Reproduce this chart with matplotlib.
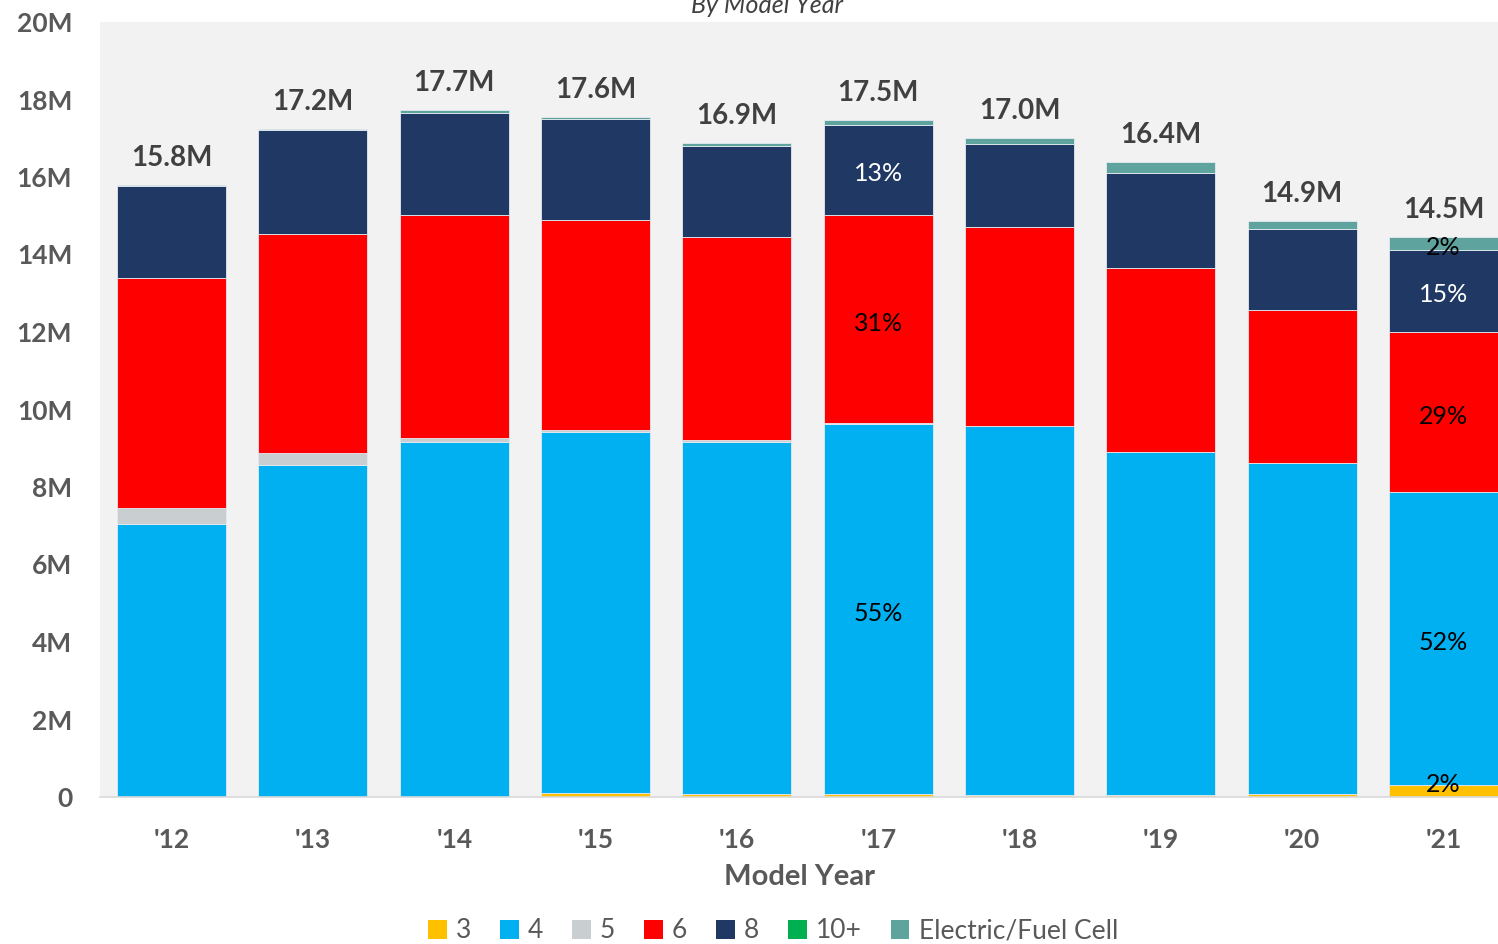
import numpy as np
import matplotlib.pyplot as plt
from matplotlib.patches import Patch

plt.rcParams['font.family'] = ['Lato', 'DejaVu Sans']

# production by engine cylinder count, millions of vehicles
years = ["'12", "'13", "'14", "'15", "'16", "'17", "'18", "'19", "'20", "'21"]
cyl3 = [0.00, 0.00, 0.00, 0.10, 0.08, 0.07, 0.06, 0.04, 0.07, 0.32]
cyl4 = [7.05, 8.57, 9.16, 9.32, 9.08, 9.56, 9.51, 8.86, 8.55, 7.54]
cyl5 = [0.41, 0.31, 0.10, 0.05, 0.05, 0.01, 0.00, 0.00, 0.00, 0.00]
cyl6 = [5.93, 5.65, 5.76, 5.42, 5.24, 5.39, 5.14, 4.75, 3.95, 4.15]
cyl8 = [2.38, 2.68, 2.63, 2.61, 2.35, 2.32, 2.14, 2.45, 2.09, 2.11]
cyl10 = [0.00, 0.00, 0.00, 0.00, 0.00, 0.00, 0.00, 0.00, 0.00, 0.00]
electric = [0.03, 0.03, 0.07, 0.06, 0.08, 0.12, 0.16, 0.29, 0.21, 0.34]

series_names = ['3', '4', '5', '6', '8', '10+', 'Electric/Fuel Cell']
series_colors = ['#FFC000', '#00B0F0', '#C9CED1', '#FF0000', '#203864', '#00B050', '#5FA39E']

# segments with a share label: (year index, series index, text colour, spot within segment)
share_labels = [
    (5, 1, 'black', 0.5), (5, 3, 'black', 0.5), (5, 4, 'white', 0.5),
    (9, 0, 'black', 1.0), (9, 1, 'black', 0.5), (9, 3, 'black', 0.5),
    (9, 4, 'white', 0.5), (9, 6, 'black', 0.5),
]

data = np.array([cyl3, cyl4, cyl5, cyl6, cyl8, cyl10, electric])
totals = data.sum(axis=0)
x = np.arange(len(years))

fig = plt.figure(figsize=(14.98, 9.44), dpi=100)
ax = fig.add_axes([100 / 1498, 147 / 944, 1 - 100 / 1498, 775 / 944])
ax.set_facecolor('#F2F2F2')

bottom = np.zeros(len(years))
for vals, col in zip(data, series_colors):
    ax.bar(x, vals, bottom=bottom, width=0.77, color=col,
           edgecolor='#E4EAF0', linewidth=0.6)
    bottom += vals

for i, tot in enumerate(totals):
    ax.annotate(f'{tot:.1f}M', (x[i], tot), xytext=(0, 10), textcoords='offset points',
                ha='center', va='bottom', fontsize=20, fontweight='bold', color='#404040')

cum = np.vstack([np.zeros(len(years)), np.cumsum(data, axis=0)])
for yi, si, tc, frac in share_labels:
    spot = cum[si, yi] + frac * data[si, yi]
    pct = data[si, yi] / totals[yi] * 100
    dy = 0 if frac == 1.0 else -3
    ax.annotate(f'{pct:.0f}%', (x[yi], spot), xytext=(0, dy), textcoords='offset points',
                ha='center', va='center', fontsize=18, color=tc)

ax.set_xlim(-0.506, 9.385)
ax.set_ylim(0, 20)
ax.set_yticks(np.arange(0, 21, 2))
ax.set_yticklabels(['0'] + [f'{v}M' for v in range(2, 21, 2)])
ax.set_xticks(x)
ax.set_xticklabels(years)
ax.tick_params(axis='y', length=0, pad=20, labelsize=19, labelcolor='#595959')
ax.tick_params(axis='x', length=0, pad=22, labelsize=19, labelcolor='#595959')
for lab in ax.get_xticklabels() + ax.get_yticklabels():
    lab.set_fontweight('bold')
for s in ['top', 'right', 'left']:
    ax.spines[s].set_visible(False)
ax.spines['bottom'].set_color('#D9D9D9')
ax.spines['bottom'].set_linewidth(1.2)

ax.set_xlabel('Model Year', fontsize=21, fontweight='bold', color='#595959', labelpad=9)

fig.text(767 / 1498, 1 - 13 / 944, 'By Model Year', ha='center', va='baseline',
         fontsize=18, style='italic', color='#404040')

handles = [Patch(facecolor=c, edgecolor='none') for c in series_colors]
fig.legend(handles, series_names, loc='center', bbox_to_anchor=(773 / 1498, 1 - 931 / 944),
           ncol=7, frameon=False, fontsize=19, handlelength=0.7, handleheight=0.7,
           handletextpad=0.35, columnspacing=1.1, labelcolor='#595959')

fig.savefig('out.png', dpi=100)
